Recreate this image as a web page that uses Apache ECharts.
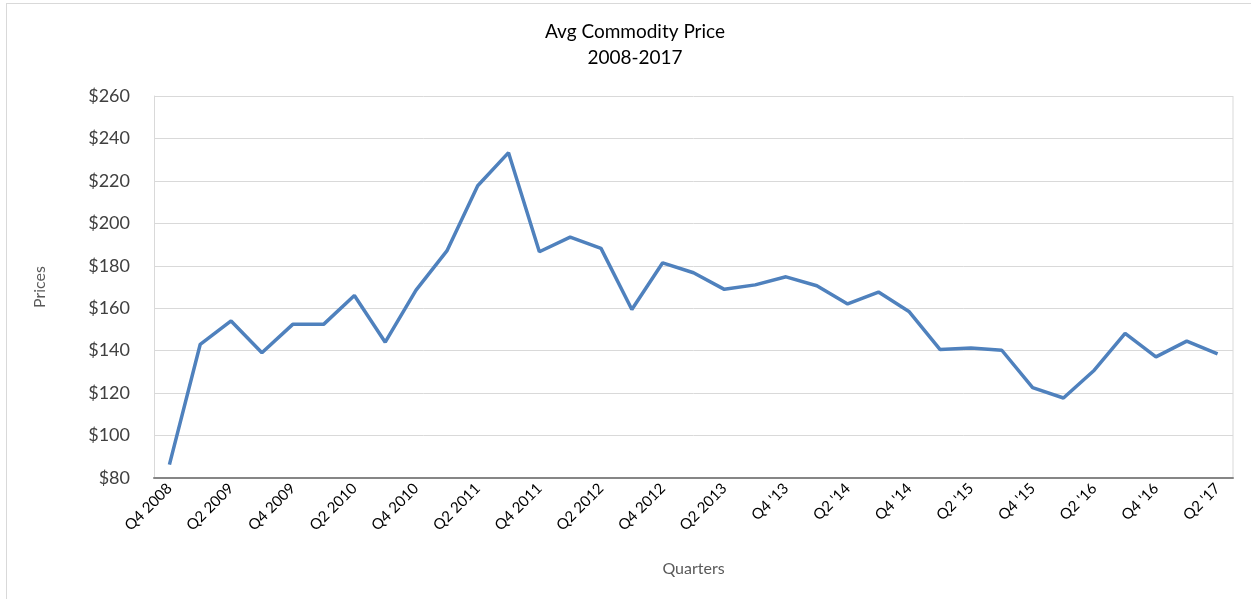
<!DOCTYPE html>
<html>
<head>
<meta charset="utf-8">
<script src="https://cdn.jsdelivr.net/npm/echarts@6/dist/echarts.min.js"></script>
<style>
html,body{margin:0;padding:0;background:#fff;overflow:hidden;}
#frame{position:absolute;left:6px;top:3px;width:1300px;height:700px;border:1px solid #d9d9d9;box-sizing:border-box;}
#chart{position:absolute;left:0;top:0;width:1251px;height:599px;}
</style>
</head>
<body>
<div id="frame"></div>
<div id="chart"></div>
<script>
const categories = [
  "Q4 2008","Q1 2009","Q2 2009","Q3 2009","Q4 2009","Q1 2010","Q2 2010","Q3 2010","Q4 2010",
  "Q1 2011","Q2 2011","Q3 2011","Q4 2011","Q1 2012","Q2 2012","Q3 2012","Q4 2012",
  "Q1 2013","Q2 2013","Q3 2013","Q4 '13","Q1 '14","Q2 '14","Q3 '14","Q4 '14",
  "Q1 '15","Q2 '15","Q3 '15","Q4 '15","Q1 '16","Q2 '16","Q3 '16","Q4 '16","Q1 '17","Q2 '17"
];
const prices = [
  86.3, 143, 154, 139, 152.4, 152.4, 166, 144, 168.5,
  187, 217.7, 233.3, 186.6, 193.5, 188.2, 159.4, 181.4,
  176.7, 168.9, 171, 174.8, 170.6, 162, 167.6, 158.3,
  140.5, 141.2, 140.2, 122.6, 117.7, 130.8, 148.1, 137.1, 144.5, 138.5
];
const yTicks = [80, 100, 120, 140, 160, 180, 200, 220, 240, 260];

const FONT = "Lato, 'Open Sans', sans-serif";
const chart = echarts.init(document.getElementById('chart'), null, {renderer: 'canvas'});
chart.setOption({
  animation: false,
  backgroundColor: 'transparent',
  title: {
    text: 'Avg Commodity Price\n2008-2017',
    left: 630, top: 14, textAlign: 'center',
    textStyle: {fontFamily: FONT, fontSize: 19, fontWeight: 'normal', color: '#000', lineHeight: 26}
  },
  grid: {left: 154, right: 18, top: 96, bottom: 121, containLabel: false},
  xAxis: {
    type: 'category',
    data: categories,
    boundaryGap: true,
    name: 'Quarters',
    nameLocation: 'middle',
    nameGap: 83,
    nameTextStyle: {fontFamily: FONT, fontSize: 16, color: '#595959'},
    axisLine: {lineStyle: {color: '#868686', width: 2}},
    axisTick: {show: false},
    axisLabel: {interval: 1, rotate: 45, fontFamily: FONT, fontSize: 15, color: '#000', margin: 8},
    splitLine: {show: false}
  },
  yAxis: {
    type: 'value',
    min: yTicks[0], max: yTicks[yTicks.length - 1], interval: 20,
    name: 'Prices',
    nameLocation: 'middle',
    nameGap: 106,
    nameTextStyle: {fontFamily: FONT, fontSize: 16, color: '#595959'},
    axisLine: {show: true, lineStyle: {color: '#d9d9d9', width: 1}},
    axisTick: {show: false},
    axisLabel: {fontFamily: FONT, fontSize: 18, color: '#404040', margin: 24, formatter: v => '$' + v},
    splitLine: {show: true, lineStyle: {color: '#d9d9d9', width: 1}}
  },
  graphic: [{
    type: 'line', shape: {x1: 1233, y1: 96, x2: 1233, y2: 477}, style: {stroke: '#d9d9d9', lineWidth: 1}
  }],
  series: [{
    type: 'line',
    data: prices,
    symbol: 'none',
    lineStyle: {color: '#4f81bd', width: 3.5},
    itemStyle: {color: '#4f81bd'}
  }]
});
</script>
</body>
</html>
